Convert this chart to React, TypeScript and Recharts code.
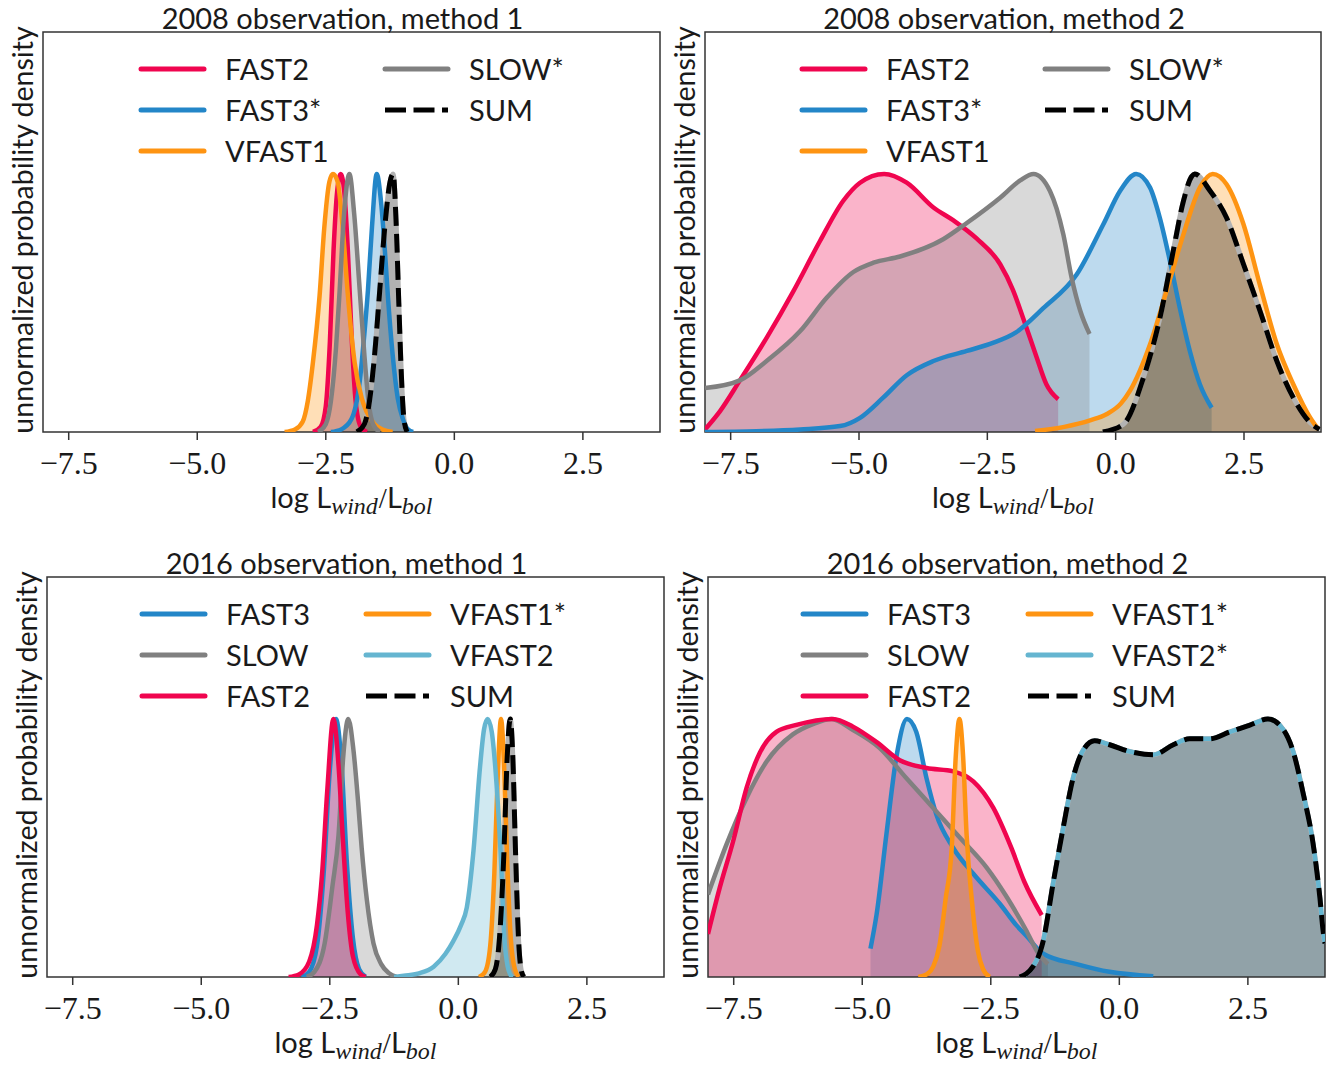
import { ComposedChart, Area, Line, XAxis, YAxis, ReferenceArea } from "recharts"

// x ticks shared by every panel
const X_TICKS = [-7.5, -5, -2.5, 0, 2.5]

// series colours
const C_FAST2 = "#f0054f"
const C_FAST3 = "#2386c8"
const C_VFAST1 = "#fe9412"
const C_VFAST2 = "#65b5d0"
const C_SLOW = "#808080"

// 2008 observation, method 1  ([log Lwind/Lbol, density])
const p1Fast2 = [[-2.75, 0], [-2.6, 0.02], [-2.5, 0.1], [-2.42, 0.35], [-2.35, 0.7], [-2.28, 0.93], [-2.21, 1], [-2.14, 0.93], [-2.07, 0.7], [-2.0, 0.38], [-1.92, 0.12], [-1.82, 0.02], [-1.7, 0]]
const p1Fast3 = [[-2.4, 0], [-2.2, 0.01], [-2.0, 0.05], [-1.85, 0.18], [-1.75, 0.38], [-1.68, 0.55], [-1.6, 0.8], [-1.51, 1], [-1.42, 0.88], [-1.35, 0.7], [-1.29, 0.52], [-1.2, 0.3], [-1.1, 0.13], [-1.0, 0.05], [-0.9, 0.01], [-0.8, 0]]
const p1Vfast1 = [[-3.3, 0], [-3.1, 0.01], [-2.95, 0.04], [-2.85, 0.12], [-2.75, 0.27], [-2.62, 0.53], [-2.53, 0.79], [-2.43, 0.97], [-2.36, 1], [-2.27, 0.97], [-2.17, 0.79], [-2.07, 0.53], [-1.94, 0.27], [-1.8, 0.13], [-1.71, 0.08], [-1.55, 0.03], [-1.4, 0.01], [-1.2, 0]]
const p1Slow = [[-2.65, 0], [-2.5, 0.03], [-2.4, 0.12], [-2.3, 0.33], [-2.23, 0.55], [-2.15, 0.83], [-2.04, 1], [-1.95, 0.85], [-1.84, 0.55], [-1.75, 0.3], [-1.67, 0.12], [-1.58, 0.03], [-1.45, 0]]
const p1Sum = [[-1.9, 0], [-1.75, 0.03], [-1.65, 0.12], [-1.55, 0.3], [-1.45, 0.55], [-1.35, 0.8], [-1.25, 0.97], [-1.19, 1], [-1.13, 0.8], [-1.08, 0.5], [-1.03, 0.22], [-0.98, 0.05], [-0.92, 0]]

// 2008 observation, method 2
const p2Fast2 = [[-8, 0.01], [-7.71, 0.08], [-7.32, 0.2], [-6.8, 0.365], [-6.28, 0.545], [-5.76, 0.74], [-5.31, 0.895], [-4.98, 0.966], [-4.51, 1], [-4.07, 0.966], [-3.55, 0.87], [-3.16, 0.82], [-2.71, 0.75], [-2.25, 0.65], [-2.0, 0.55], [-1.8, 0.44], [-1.54, 0.29], [-1.35, 0.185], [-1.12, 0.127]]
const p2Fast3 = [[-8, 0], [-7, 0.003], [-6.15, 0.01], [-5.37, 0.023], [-4.98, 0.055], [-4.53, 0.133], [-4.07, 0.22], [-3.55, 0.275], [-2.9, 0.314], [-2.38, 0.346], [-1.95, 0.385], [-1.41, 0.48], [-0.76, 0.61], [-0.24, 0.805], [0.085, 0.934], [0.4, 1], [0.67, 0.947], [0.86, 0.83], [1.06, 0.66], [1.25, 0.48], [1.45, 0.31], [1.64, 0.185], [1.87, 0.094]]
const p2Vfast1 = [[-1.57, 0.004], [-1.0, 0.02], [-0.5, 0.045], [-0.17, 0.07], [0.1, 0.11], [0.28, 0.16], [0.67, 0.34], [0.99, 0.546], [1.32, 0.766], [1.64, 0.947], [1.89, 1], [2.16, 0.96], [2.49, 0.805], [2.81, 0.57], [3.14, 0.34], [3.46, 0.185], [3.79, 0.055], [3.95, 0.01]]
const p2Slow = [[-8, 0.17], [-7.32, 0.2], [-6.8, 0.275], [-6.15, 0.39], [-5.63, 0.52], [-5.11, 0.62], [-4.72, 0.656], [-4.2, 0.68], [-3.36, 0.747], [-2.9, 0.81], [-2.25, 0.908], [-1.86, 0.975], [-1.6, 1], [-1.28, 0.934], [-1.02, 0.766], [-0.86, 0.6], [-0.69, 0.47], [-0.51, 0.38]]
const p2Sum = [[-0.25, 0], [0.15, 0.03], [0.54, 0.21], [0.86, 0.44], [1.12, 0.7], [1.32, 0.895], [1.48, 0.99], [1.54, 1], [1.84, 0.934], [2.16, 0.83], [2.49, 0.65], [2.81, 0.47], [3.14, 0.275], [3.46, 0.133], [3.79, 0.036], [3.97, 0.01]]

// 2016 observation, method 1
const p3Fast3 = [[-3.05, 0], [-2.9, 0.02], [-2.75, 0.12], [-2.62, 0.4], [-2.5, 0.8], [-2.38, 1], [-2.27, 0.82], [-2.17, 0.45], [-2.05, 0.15], [-1.93, 0.03], [-1.8, 0]]
const p3Slow = [[-2.95, 0], [-2.8, 0.02], [-2.6, 0.13], [-2.45, 0.35], [-2.33, 0.55], [-2.24, 0.85], [-2.14, 1], [-2.04, 0.88], [-1.95, 0.68], [-1.88, 0.5], [-1.78, 0.3], [-1.65, 0.13], [-1.5, 0.05], [-1.35, 0.015], [-1.2, 0]]
const p3Fast2 = [[-3.3, 0], [-3.1, 0.01], [-2.9, 0.06], [-2.75, 0.2], [-2.65, 0.4], [-2.55, 0.72], [-2.43, 1], [-2.33, 0.82], [-2.25, 0.55], [-2.15, 0.25], [-2.05, 0.08], [-1.9, 0.01], [-1.8, 0]]
const p3Vfast1 = [[0.4, 0], [0.52, 0.02], [0.62, 0.12], [0.7, 0.4], [0.77, 0.8], [0.83, 1], [0.89, 0.82], [0.95, 0.45], [1.02, 0.15], [1.1, 0.03], [1.18, 0]]
const p3Vfast2 = [[-1.25, 0], [-1.06, 0.005], [-0.75, 0.015], [-0.48, 0.04], [-0.25, 0.09], [-0.095, 0.14], [0.05, 0.2], [0.165, 0.27], [0.295, 0.49], [0.42, 0.81], [0.5, 0.96], [0.57, 1], [0.65, 0.95], [0.72, 0.81], [0.82, 0.49], [0.9, 0.14], [0.96, 0.04], [1.01, 0.01], [1.06, 0]]
const p3Sum = [[0.62, 0], [0.72, 0.03], [0.8, 0.15], [0.89, 0.5], [0.95, 0.85], [1.01, 1], [1.06, 0.85], [1.11, 0.5], [1.17, 0.15], [1.23, 0.02], [1.28, 0]]

// 2016 observation, method 2
const p4Fast3 = [[-4.84, 0.11], [-4.72, 0.244], [-4.53, 0.553], [-4.33, 0.86], [-4.13, 1], [-3.95, 0.95], [-3.75, 0.77], [-3.56, 0.63], [-3.23, 0.5], [-2.84, 0.4], [-2.32, 0.283], [-2.0, 0.2], [-1.81, 0.16], [-1.48, 0.09], [-0.83, 0.05], [-0.19, 0.02], [0.66, 0.003]]
const p4Slow = [[-8, 0.32], [-7.64, 0.514], [-7.25, 0.694], [-6.86, 0.835], [-6.35, 0.94], [-5.96, 0.98], [-5.6, 1], [-5.18, 0.957], [-4.66, 0.887], [-4.14, 0.77], [-3.62, 0.655], [-3.1, 0.54], [-2.58, 0.424], [-2.19, 0.31], [-1.81, 0.18], [-1.6, 0.1], [-1.39, 0.05]]
const p4Fast2 = [[-8, 0.167], [-7.77, 0.347], [-7.51, 0.527], [-7.25, 0.733], [-6.99, 0.87], [-6.67, 0.95], [-6.28, 0.977], [-5.57, 1], [-5.18, 0.97], [-4.72, 0.91], [-4.27, 0.84], [-3.75, 0.81], [-3.23, 0.797], [-2.84, 0.758], [-2.45, 0.655], [-2.1, 0.5], [-1.85, 0.37], [-1.51, 0.24]]
const p4Vfast1 = [[-3.91, 0], [-3.75, 0.01], [-3.62, 0.04], [-3.5, 0.12], [-3.38, 0.3], [-3.26, 0.5], [-3.18, 0.86], [-3.11, 1], [-3.04, 0.86], [-2.97, 0.55], [-2.86, 0.28], [-2.75, 0.1], [-2.65, 0.03], [-2.52, 0]]
const p4Vfast2 = [[-1.94, 0], [-1.68, 0.04], [-1.48, 0.14], [-1.29, 0.36], [-1.09, 0.58], [-0.9, 0.77], [-0.7, 0.88], [-0.48, 0.915], [-0.19, 0.9], [0.2, 0.874], [0.66, 0.861], [1.05, 0.9], [1.37, 0.923], [1.76, 0.923], [2.15, 0.95], [2.54, 0.976], [2.89, 1], [3.12, 0.976], [3.38, 0.874], [3.58, 0.707], [3.77, 0.514], [3.9, 0.308], [3.97, 0.167], [4.0, 0.13]]
const p4Sum = p4Vfast2 // the sum coincides with VFAST2*

const SANS = "Lato, 'DejaVu Sans', sans-serif"
const SERIF = "'Liberation Serif', 'DejaVu Serif', serif"
const TEXT = "#1a1a1a"
const PAD = 2
const AXIS_H = 100

interface Series {
  name: string
  color: string
  pts: number[][]
}

interface PanelDef {
  title: string
  left: number
  top: number
  w: number
  h: number
  legendX: number
  colGap: number
  series: Series[] // drawing order
  legendCols: string[][] // names, column-major like matplotlib
  sum: number[][]
}

const panels: PanelDef[] = [
  {
    title: "2008 observation, method 1",
    left: 43, top: 32, w: 617, h: 400,
    legendX: 141, colGap: 244,
    series: [
      { name: "FAST2", color: C_FAST2, pts: p1Fast2 },
      { name: "FAST3*", color: C_FAST3, pts: p1Fast3 },
      { name: "VFAST1", color: C_VFAST1, pts: p1Vfast1 },
      { name: "SLOW*", color: C_SLOW, pts: p1Slow }
    ],
    legendCols: [["FAST2", "FAST3*", "VFAST1"], ["SLOW*", "SUM"]],
    sum: p1Sum
  },
  {
    title: "2008 observation, method 2",
    left: 705, top: 32, w: 616, h: 400,
    legendX: 802, colGap: 243,
    series: [
      { name: "FAST2", color: C_FAST2, pts: p2Fast2 },
      { name: "FAST3*", color: C_FAST3, pts: p2Fast3 },
      { name: "VFAST1", color: C_VFAST1, pts: p2Vfast1 },
      { name: "SLOW*", color: C_SLOW, pts: p2Slow }
    ],
    legendCols: [["FAST2", "FAST3*", "VFAST1"], ["SLOW*", "SUM"]],
    sum: p2Sum
  },
  {
    title: "2016 observation, method 1",
    left: 47, top: 577, w: 617, h: 400,
    legendX: 142, colGap: 224,
    series: [
      { name: "FAST3", color: C_FAST3, pts: p3Fast3 },
      { name: "SLOW", color: C_SLOW, pts: p3Slow },
      { name: "FAST2", color: C_FAST2, pts: p3Fast2 },
      { name: "VFAST1*", color: C_VFAST1, pts: p3Vfast1 },
      { name: "VFAST2", color: C_VFAST2, pts: p3Vfast2 }
    ],
    legendCols: [["FAST3", "SLOW", "FAST2"], ["VFAST1*", "VFAST2", "SUM"]],
    sum: p3Sum
  },
  {
    title: "2016 observation, method 2",
    left: 708, top: 577, w: 617, h: 400,
    legendX: 803, colGap: 225,
    series: [
      { name: "FAST3", color: C_FAST3, pts: p4Fast3 },
      { name: "SLOW", color: C_SLOW, pts: p4Slow },
      { name: "FAST2", color: C_FAST2, pts: p4Fast2 },
      { name: "VFAST1*", color: C_VFAST1, pts: p4Vfast1 },
      { name: "VFAST2*", color: C_VFAST2, pts: p4Vfast2 }
    ],
    legendCols: [["FAST3", "SLOW", "FAST2"], ["VFAST1*", "VFAST2*", "SUM"]],
    sum: p4Sum
  }
]

const toPts = (arr: number[][]) => arr.map(([x, y]) => ({ x, y }))

const fmtTick = (v: number) => (v < 0 ? "\u2212" : "") + Math.abs(v).toFixed(1)

function Panel({ p }: { p: PanelDef }) {
  const sumPts = toPts(p.sum)
  const comps = p.series.map((s) => ({ ...s, data: toPts(s.pts) }))
  // x label, drawn under the tick labels
  const xLabel = () => (
    <text
      x={PAD + p.w / 2}
      y={PAD + p.h + 76}
      textAnchor="middle"
      fill={TEXT}
      fontFamily={SANS}
      fontSize={29}
    >
      <tspan>log L</tspan>
      <tspan fontFamily={SERIF} fontStyle="italic" fontSize={24} dy={6}>wind</tspan>
      <tspan fontFamily={SERIF} dy={-6} dx={1}>/</tspan>
      <tspan>L</tspan>
      <tspan fontFamily={SERIF} fontStyle="italic" fontSize={24} dy={6}>bol</tspan>
    </text>
  )

  return (
    <div style={{ position: "absolute", left: p.left - PAD, top: p.top - PAD }}>
      <ComposedChart
        width={p.w + 2 * PAD}
        height={p.h + PAD + AXIS_H}
        margin={{ top: PAD, right: PAD, bottom: 0, left: PAD }}
      >
        <XAxis
          type="number"
          dataKey="x"
          domain={[-8, 4]}
          ticks={X_TICKS}
          interval={0}
          allowDataOverflow
          axisLine={false}
          tickLine={{ stroke: "#333", strokeWidth: 1.5 }}
          tickSize={8}
          tickMargin={11}
          tickFormatter={fmtTick}
          tick={{ fontFamily: SERIF, fontSize: 32, fill: TEXT }}
          height={AXIS_H}
          label={xLabel}
        />
        <YAxis hide type="number" domain={[0, 1.55]} allowDataOverflow />

        {/* fills first: components, then the sum */}
        {comps.map((s) => (
          <Area
            key={`fill-${s.name}`}
            data={s.data}
            dataKey="y"
            type="monotone"
            stroke="none"
            fill={s.color}
            fillOpacity={0.3}
            dot={false}
            activeDot={false}
            isAnimationActive={false}
          />
        ))}
        <Area
          data={sumPts}
          dataKey="y"
          type="monotone"
          stroke="none"
          fill="#000"
          fillOpacity={0.3}
          dot={false}
          activeDot={false}
          isAnimationActive={false}
        />

        {/* then the lines: grey under-stroke of the sum, components, dashed sum */}
        <Line
          data={sumPts}
          dataKey="y"
          type="monotone"
          stroke="#b3b3b3"
          strokeWidth={5}
          dot={false}
          activeDot={false}
          isAnimationActive={false}
        />
        {comps.map((s) => (
          <Line
            key={`line-${s.name}`}
            data={s.data}
            dataKey="y"
            type="monotone"
            stroke={s.color}
            strokeWidth={4.5}
            dot={false}
            activeDot={false}
            isAnimationActive={false}
          />
        ))}
        <Line
          data={sumPts}
          dataKey="y"
          type="monotone"
          stroke="#000"
          strokeWidth={5}
          strokeDasharray="19 8"
          dot={false}
          activeDot={false}
          isAnimationActive={false}
        />
        <ReferenceArea
          x1={-8}
          x2={4}
          y1={0}
          y2={1.55}
          fill="none"
          fillOpacity={0}
          stroke="#333"
          strokeWidth={1.5}
          ifOverflow="visible"
        />
      </ComposedChart>
    </div>
  )
}

const colorOf = (p: PanelDef, name: string) =>
  p.series.find((s) => s.name === name)?.color ?? "#000"

// titles, y labels and legends
function Overlay() {
  return (
    <svg
      width={1339}
      height={1066}
      style={{ position: "absolute", left: 0, top: 0, pointerEvents: "none" }}
    >
      {panels.map((p) => (
        <g key={p.title} fill={TEXT} fontFamily={SANS} fontSize={29}>
          <text x={p.left + p.w / 2 - 9} y={p.top - 3} textAnchor="middle">
            {p.title}
          </text>
          <text
            transform={`translate(${p.left - 10},${p.top + p.h / 2 - 2}) rotate(-90)`}
            textAnchor="middle"
            fontSize={28.5}
          >
            unnormalized probability density
          </text>
          {p.legendCols.map((col, ci) =>
            col.map((name, ri) => {
              const x0 = p.legendX + ci * p.colGap
              const y = p.top + 37 + ri * 41
              const isSum = name === "SUM"
              return (
                <g key={name}>
                  <line
                    x1={x0}
                    x2={x0 + 63}
                    y1={y}
                    y2={y}
                    stroke={isSum ? "#000" : colorOf(p, name)}
                    strokeWidth={5}
                    strokeDasharray={isSum ? "21 7.5" : undefined}
                    strokeLinecap={isSum ? "butt" : "round"}
                  />
                  <text x={x0 + 84} y={y + 10.5}>
                    {name}
                  </text>
                </g>
              )
            })
          )}
        </g>
      ))}
    </svg>
  )
}

export default function App() {
  return (
    <div
      style={{
        position: "absolute",
        left: 0,
        top: 0,
        width: 1339,
        height: 1066,
        background: "#fff"
      }}
    >
      {panels.map((p) => (
        <Panel key={p.title} p={p} />
      ))}
      <Overlay />
    </div>
  )
}
